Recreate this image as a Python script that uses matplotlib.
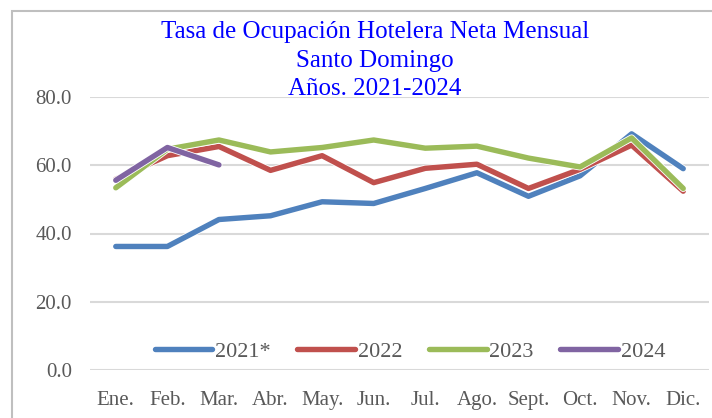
import matplotlib
matplotlib.use("Agg")
import matplotlib.pyplot as plt
import matplotlib.patheffects as pe
from matplotlib.patches import Rectangle

plt.rcParams['font.family'] = ['Liberation Serif', 'DejaVu Serif']

months = ['Ene.', 'Feb.', 'Mar.', 'Abr.', 'May.', 'Jun.', 'Jul.', 'Ago.',
          'Sept.', 'Oct.', 'Nov.', 'Dic.']
y2021 = [36.2, 36.2, 44.1, 45.2, 49.3, 48.8, 53.2, 57.8, 50.9, 56.9, 69.2, 59.0]
y2022 = [55.9, 62.8, 65.5, 58.5, 62.8, 54.9, 59.1, 60.3, 53.2, 58.8, 65.9, 52.4]
y2023 = [53.4, 64.7, 67.4, 63.9, 65.2, 67.4, 65.0, 65.6, 62.1, 59.5, 68.0, 53.2]
y2024 = [55.6, 65.2, 60.1]
series = [('2021*', y2021, '#4F81BD'),
          ('2022', y2022, '#C0504D'),
          ('2023', y2023, '#9BBB59'),
          ('2024', y2024, '#8064A2')]
yticks = [0, 20, 40, 60, 80]
title_lines = ['Tasa de Ocupación Hotelera Neta Mensual', 'Santo Domingo', 'Años. 2021-2024']

W, H = 712, 418
fig = plt.figure(figsize=(W / 100, H / 100), dpi=100)
ax = fig.add_axes([90 / W, 1 - 370 / H, 619 / W, 273 / H])

# chart border
fig.patches.append(Rectangle((12 / W, -0.1), 1.2, 1 - 11 / H + 0.1, transform=fig.transFigure,
                             fill=False, edgecolor='#BFBFBF', linewidth=1.5))

for name, vals, col in series:
    ax.plot(range(len(vals)), vals, color=col, linewidth=3.9, label=name,
            solid_capstyle='round', solid_joinstyle='round',
            path_effects=[pe.Stroke(linewidth=5.1, foreground='white'), pe.Normal()])

ax.set_xlim(-0.5, 11.5)
ax.set_ylim(0, 80)
ax.set_yticks(yticks)
ax.set_yticklabels([f'{v:.1f}' for v in yticks])
ax.set_xticks(range(len(months)))
ax.set_xticklabels(months)
ax.tick_params(axis='both', length=0, labelsize=15, labelcolor='#595959')
ax.tick_params(axis='y', pad=13)
ax.tick_params(axis='x', pad=15)
ax.grid(axis='y', color='#D9D9D9', linewidth=1.5)
ax.set_axisbelow(True)
for s in ax.spines.values():
    s.set_visible(False)

leg = ax.legend(loc='center', bbox_to_anchor=(0.517, 0.066), ncol=4, frameon=False,
                fontsize=16, handlelength=2.6, handletextpad=0.12, columnspacing=1.2,
                labelcolor='#595959')
for h in leg.get_lines():
    h.set_path_effects([])
    h.set_solid_capstyle('round')

for i, line in enumerate(title_lines):
    fig.text(375 / W, 1 - (32 + 28.5 * i) / H, line, ha='center', va='center',
             fontsize=18, color='#0000FF')

fig.savefig('out.png', dpi=100)
